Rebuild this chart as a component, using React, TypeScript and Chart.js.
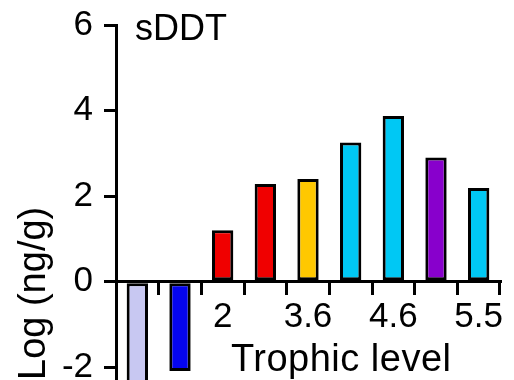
import React, { useEffect, useRef } from "react";
import { Chart, registerables } from "chart.js";

Chart.register(...registerables);

// ---- data ----
const categories = ["", "", "2", "", "3.6", "", "4.6", "", "5.5"];
const values = [-2.6, -2.09, 1.2, 2.28, 2.4, 3.25, 3.87, 2.9, 2.19];
const barColors = [
  "#c8c8f2",
  "#0505ee",
  "#f00000",
  "#f00000",
  "#ffc800",
  "#00c8f4",
  "#00c8f4",
  "#8800cc",
  "#00c8f4",
];
const yStep = 2;
const yMin = -2.3;
const yMax = 6;
const chartLabel = "sDDT";
const xTitle = "Trophic level";
const yTitle = "Log (ng/g)";

const FAMILY = "'Liberation Sans', Arial, Helvetica, sans-serif";

const textPlugin = {
  id: "annotText",
  afterDraw(chart: any) {
    const { ctx, chartArea, scales } = chart;
    const zero = scales.y.getPixelForValue(0);
    ctx.save();
    ctx.fillStyle = "#000";
    ctx.textAlign = "left";
    ctx.textBaseline = "alphabetic";
    ctx.font = `36px ${FAMILY}`;
    ctx.fillText(chartLabel, chartArea.left + 19, chartArea.top + 15);
    ctx.font = `38px ${FAMILY}`;
    try {
      (ctx as any).letterSpacing = "0.5px";
    } catch (e) {}
    ctx.fillText(xTitle, chartArea.left + 115, zero + 89.5);
    ctx.restore();
  },
};

export default function App() {
  const ref = useRef<HTMLCanvasElement | null>(null);

  useEffect(() => {
    document.body.style.margin = "0";
    if (!ref.current) return;
    const chart = new Chart(ref.current, {
      type: "bar",
      data: {
        labels: categories,
        datasets: [
          {
            data: values,
            backgroundColor: barColors,
            borderColor: "#000",
            borderWidth: 3,
            borderSkipped: false,
            barPercentage: 0.5,
            categoryPercentage: 1,
          },
        ],
      },
      options: {
        animation: false,
        responsive: false,
        devicePixelRatio: 1,
        layout: { padding: { top: 25, right: 14, bottom: 0, left: 0 } },
        plugins: {
          legend: { display: false },
          tooltip: { enabled: false },
        },
        scales: {
          x: {
            position: { y: 0 } as any,
            offset: true,
            grid: {
              offset: true,
              drawOnChartArea: false,
              drawTicks: true,
              tickLength: 12,
              color: "#000",
              lineWidth: 3,
            },
            border: { display: true, color: "#000", width: 3 },
            ticks: {
              autoSkip: false,
              maxRotation: 0,
              color: "#000",
              font: { size: 35, family: FAMILY },
              padding: 3,
            },
            afterFit: (s: any) => {
              s.height = 0;
              s.paddingLeft = 0;
              s.paddingRight = 0;
            },
          },
          y: {
            min: yMin,
            max: yMax,
            ticks: {
              color: "#000",
              font: { size: 35, family: FAMILY },
              padding: 11,
              stepSize: yStep,
              includeBounds: false,
            },
            grid: {
              drawOnChartArea: false,
              drawTicks: true,
              tickLength: 12,
              color: "#000",
              lineWidth: 3,
            },
            border: { display: true, color: "#000", width: 3 },
            title: {
              display: true,
              text: yTitle,
              align: "start",
              color: "#000",
              font: { size: 38, family: FAMILY },
              padding: { top: 12, bottom: 0 },
            },
            afterFit: (s: any) => {
              s.width = 116;
              s.paddingTop = 0;
              s.paddingBottom = 0;
            },
          },
        },
      },
      plugins: [textPlugin],
    });
    return () => chart.destroy();
  }, []);

  return (
    <div style={{ width: 514, height: 380 }}>
      <canvas ref={ref} width={514} height={380} style={{ display: "block" }} />
    </div>
  );
}
